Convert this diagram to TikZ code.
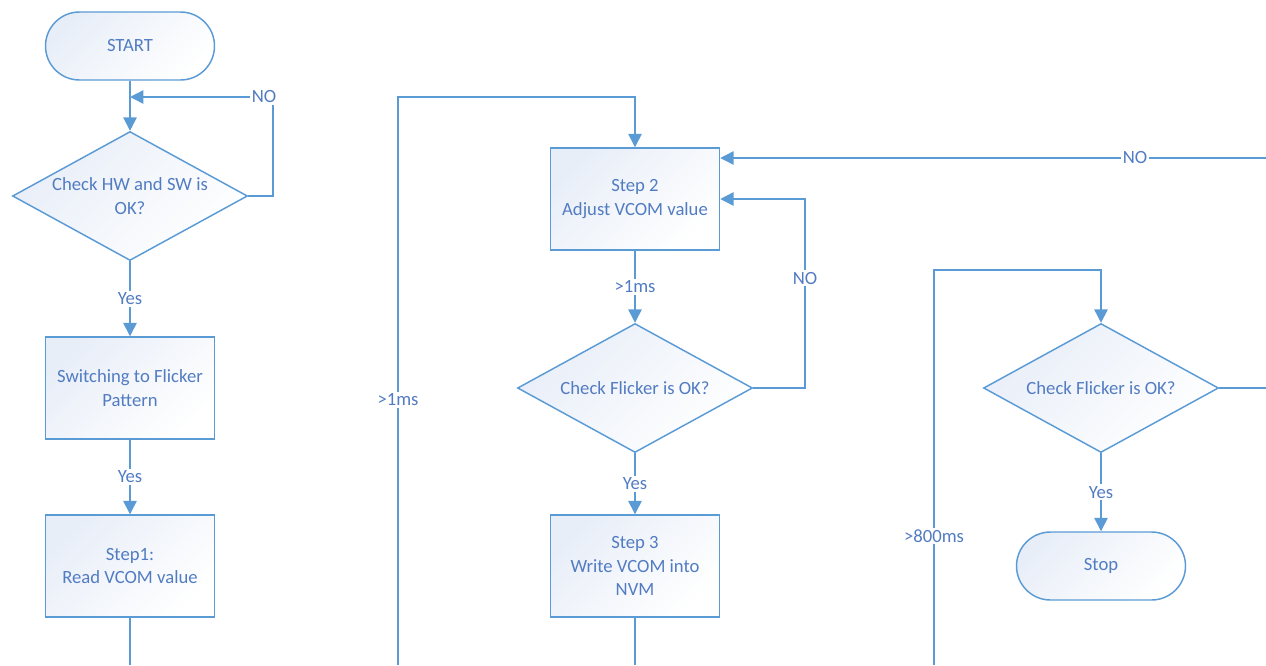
\documentclass[tikz,border=0pt]{standalone}
\usepackage{fontspec}
\setmainfont{Carlito}
\usepackage{xcolor}
\usepackage{tikz}
\usetikzlibrary{shapes.geometric,arrows.meta}

\definecolor{flowline}{RGB}{91,155,213}
\definecolor{flowtext}{RGB}{82,124,194}
\definecolor{flowfill}{RGB}{232,238,248}
\newcommand\flowfont{\fontsize{14}{17.5}\selectfont}

\tikzset{
  flowbase/.style={draw=flowline, line width=1.1pt, top color=flowfill, bottom color=white,
    shading angle=45, align=center, text=flowtext, font=\flowfont},
  stepbox/.style={flowbase, rectangle, minimum width=126.75pt, minimum height=76.5pt},
  termbox/.style={flowbase, rectangle, rounded corners=25.5pt, minimum width=126.75pt, minimum height=51pt},
  checkbox/.style={flowbase, diamond, aspect=1.82, inner sep=0pt, minimum width=176.25pt, minimum height=96.75pt},
  wire/.style={draw=flowline, line width=1.1pt},
  wirearrow/.style={wire, -{Triangle[length=10pt,width=10pt]}},
  lbl/.style={fill=white, text=flowtext, font=\flowfont, inner sep=1.5pt}
}

\begin{document}
\begin{tikzpicture}[x=0.75pt, y=-0.75pt]
  \useasboundingbox (0,0) rectangle (1266,665);

  % left column
  \node[termbox]  (start) at (130,46)  {START};
  \node[checkbox] (chk1)  at (130,196) {Check HW and SW is\\OK?};
  \node[stepbox]  (flick) at (130,388) {Switching to Flicker\\Pattern};
  \node[stepbox]  (s1)    at (130,566) {Step1:\\Read VCOM value};
  \coordinate (s1out) at (130,665);

  \draw[wirearrow] (start) -- (chk1);
  \draw[wirearrow] (chk1.east) -- (273,196) -- (273,97) -- (130,97);
  \node[lbl] (no1) at (264,97) {NO};
  \draw[wirearrow] (chk1) -- node[lbl] (yes1) {Yes} (flick);
  \draw[wirearrow] (flick) -- node[lbl] (yes2) {Yes} (s1);
  \draw[wire] (s1) -- (s1out);

  % middle column
  \node[stepbox]  (s2)   at (635,199) {Step 2\\Adjust VCOM value};
  \node[checkbox] (chk2) at (635,388) {Check Flicker is OK?};
  \node[stepbox]  (s3)   at (635,566) {Step 3\\Write VCOM into\\NVM};
  \coordinate (loop1in) at (398,665);
  \coordinate (s3out) at (635,665);
  \coordinate (noin) at (1266,158);

  \draw[wirearrow] (loop1in) -- (398,97) -- (635,97) -- (s2);
  \node[lbl] (ms1) at (398,400) {>1ms};
  \draw[wirearrow] (s2) -- node[lbl] (ms2) {>1ms} (chk2);
  \draw[wirearrow] (chk2.east) -- (805,388) -- (805,199) -- (s2.east);
  \node[lbl] (no2) at (805,278) {NO};
  \draw[wirearrow] (chk2) -- node[lbl] (yes3) {Yes} (s3);
  \draw[wire] (s3) -- (s3out);
  \draw[wirearrow] (noin) -- (s2.east |- noin);
  \node[lbl] (no3) at (1135,158) {NO};

  % right column
  \node[checkbox] (chk3) at (1101,388) {Check Flicker is OK?};
  \node[termbox]  (stop) at (1101,566) {Stop};
  \coordinate (loop2in) at (934,665);
  \coordinate (chk3out) at (1266,388);

  \draw[wirearrow] (loop2in) -- (934,270) -- (1101,270) -- (chk3);
  \node[lbl] (ms3) at (934,536) {>800ms};
  \draw[wirearrow] (chk3) -- node[lbl] (yes4) {Yes} (stop);
  \draw[wire] (chk3.east) -- (chk3out);
\end{tikzpicture}
\end{document}
